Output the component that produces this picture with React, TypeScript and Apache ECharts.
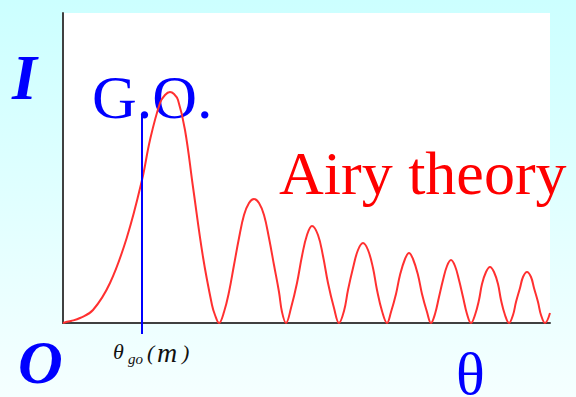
import React, { useEffect, useRef } from "react";
import * as echarts from "echarts";

// θ positions (arbitrary units) and intensity values
const thetaVals = [
  0, 3, 8, 17, 30, 47, 64, 79, 87, 97, 102, 107, 111, 115, 122, 130, 140, 149, 152, 156,
  161, 166, 171, 176, 181, 186, 191, 196, 201, 206, 211, 216, 219, 223,
  228, 234, 239, 244, 249, 255, 260, 265, 271, 276,
  281, 285, 290, 295, 300, 305, 310, 314, 319, 324,
  328, 333, 337, 342, 346, 350, 355, 359, 364, 368,
  372, 376, 380, 384, 388, 392, 396, 400, 404, 408,
  412, 416, 419, 423, 427, 431, 435, 438, 442, 446,
  450, 453, 457, 460, 464, 468, 471, 475, 478, 482, 487,
];
const intensityVals = [
  0, 1, 2, 5, 13, 40, 86, 143, 183, 220, 228, 231, 229, 223, 193, 136, 66, 18, 8, 0,
  11, 31, 58, 85, 108, 120, 124, 120, 108, 85, 58, 31, 11, 0,
  15, 40, 67, 88, 97, 88, 67, 40, 15, 0,
  12, 33, 55, 73, 80, 73, 55, 33, 12, 0,
  11, 29, 48, 64, 70, 64, 48, 29, 11, 0,
  9, 26, 43, 57, 63, 57, 43, 26, 9, 0,
  8, 23, 39, 51, 56, 51, 39, 23, 8, 0,
  8, 21, 35, 46, 51, 46, 35, 21, 8, 0, 10,
];

const thetaMax = 487;
const intensityMax = 310;
const goTheta = 79; // geometric-optics angle
const goTop = 208;

const yLabel = "I";
const originLabel = "O";
const xLabel = "θ";
const goLabel = "G.O.";
const airyLabel = "Airy theory";

export default function App() {
  const ref = useRef<HTMLDivElement>(null);
  useEffect(() => {
    if (!ref.current) return;
    const chart = echarts.init(ref.current, undefined, { renderer: "svg" });
    const serif = "'Liberation Serif', 'Times New Roman', serif";
    chart.setOption({
      animation: false,
      backgroundColor: new echarts.graphic.LinearGradient(0, 0, 0, 1, [
        { offset: 0, color: "#ccffff" },
        { offset: 1, color: "#f5ffff" },
      ]),
      grid: { left: 63, top: 13, width: 487, height: 310, show: true, backgroundColor: "#ffffff", borderWidth: 0 },
      xAxis: {
        type: "value", min: 0, max: thetaMax,
        axisLine: { show: true, lineStyle: { color: "#404040", width: 2 } },
        axisTick: { show: false }, axisLabel: { show: false }, splitLine: { show: false },
      },
      yAxis: {
        type: "value", min: 0, max: intensityMax,
        axisLine: { show: true, lineStyle: { color: "#404040", width: 2 } },
        axisTick: { show: false }, axisLabel: { show: false }, splitLine: { show: false },
      },
      series: [
        {
          type: "line",
          data: thetaVals.map((t, i) => [t, intensityVals[i]]),
          smooth: 0.4,
          showSymbol: false,
          lineStyle: { color: "#ff3030", width: 2 },
          z: 5,
        },
      ],
    });
    const top = chart.convertToPixel({ gridIndex: 0 }, [goTheta, goTop]) as number[];
    const base = chart.convertToPixel({ gridIndex: 0 }, [goTheta, 0]) as number[];
    const txt = (text: string, x: number, y: number, size: number, color: string, weight = "normal", style = "normal") => ({
      type: "text", x, y, z: 1,
      style: { text, fill: color, fontSize: size, fontFamily: serif, fontWeight: weight, fontStyle: style, verticalAlign: "middle", align: "left" },
    });
    chart.setOption({
      graphic: [
        txt(yLabel, 12, 77, 64, "#0000ff", "bold", "italic"),
        txt(originLabel, 18, 362, 62, "#0000ff", "bold", "italic"),
        txt(xLabel, 456, 374, 60, "#0000ff"),
        txt(goLabel, 92, 97, 62, "#0000ff"),
        txt(airyLabel, 279, 173, 62, "#ff0000"),
        txt("θ", 113, 351, 22, "#111111", "normal", "italic"),
        txt("go", 128, 359, 15, "#111111", "normal", "italic"),
        txt("(", 147, 352, 22, "#111111", "normal", "italic"),
        txt("m", 157, 352, 28, "#111111", "normal", "italic"),
        txt(")", 182, 352, 22, "#111111", "normal", "italic"),
        {
          type: "line", z: 10,
          shape: { x1: top[0], y1: top[1], x2: base[0], y2: base[1] + 11 },
          style: { stroke: "#0000ff", lineWidth: 2 },
        },
      ],
    });
    return () => chart.dispose();
  }, []);
  return <div ref={ref} style={{ position: "fixed", left: 0, top: 0, width: 576, height: 397 }} />;
}
